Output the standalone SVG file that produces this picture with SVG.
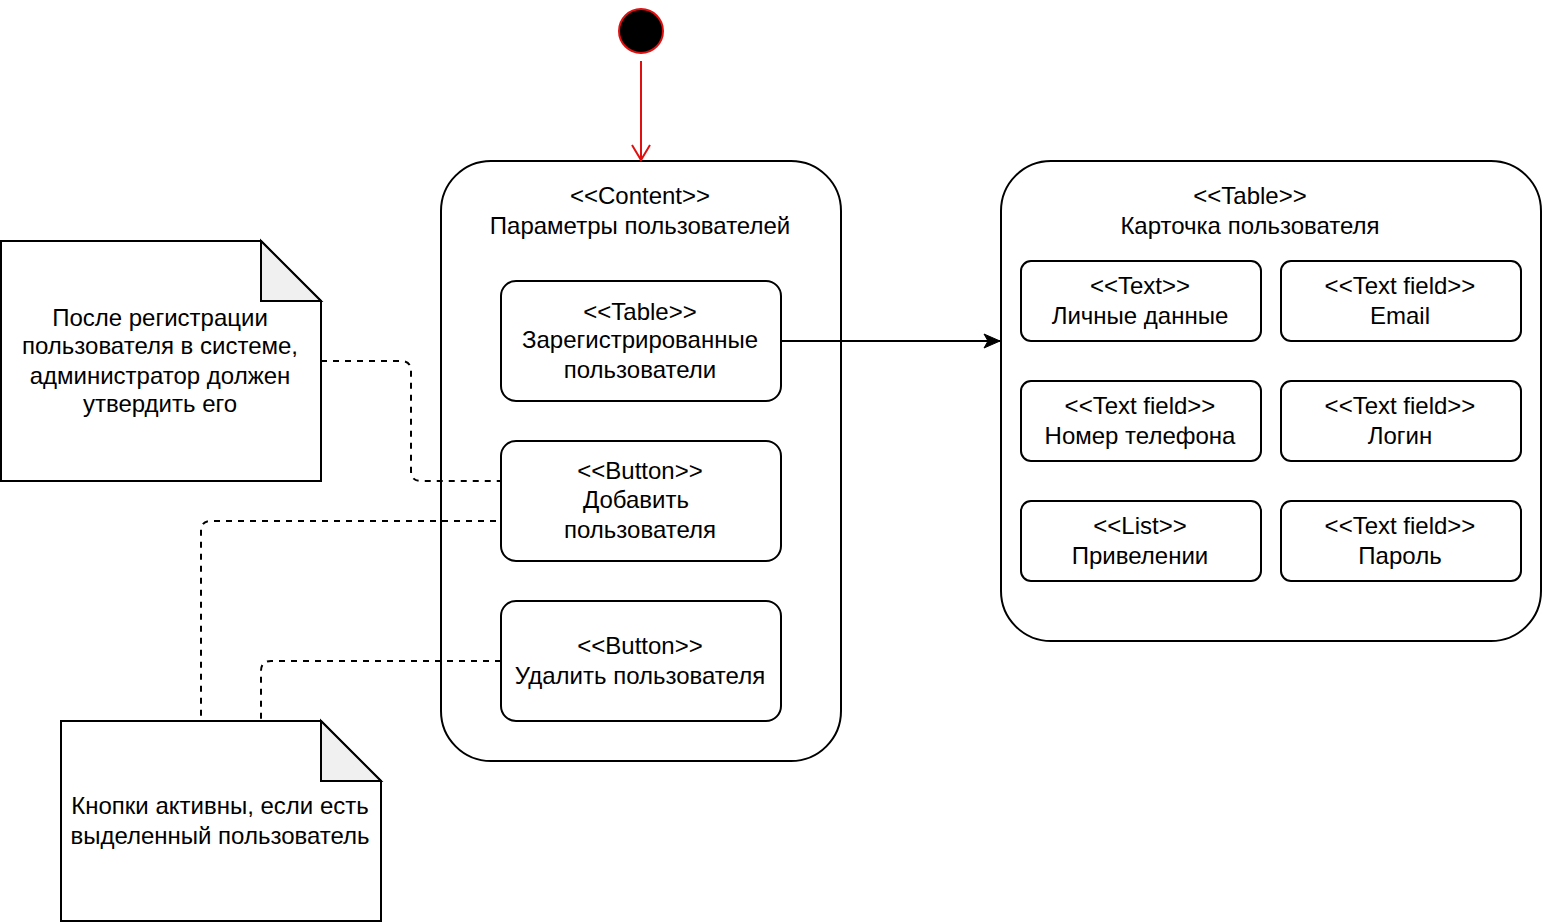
<svg xmlns="http://www.w3.org/2000/svg" width="1542" height="922" viewBox="0 0 1542 922">
  <style>
    .box { fill: #ffffff; stroke: #000000; stroke-width: 2; }
    .frame { fill: none; stroke: #000000; stroke-width: 2; }
    .note { fill: #ffffff; stroke: #000000; stroke-width: 2; }
    .fold { fill: #f0f0f0; stroke: #000000; stroke-width: 2; stroke-linejoin: miter; }
    .lbl { font-family: "Liberation Sans", Arial, sans-serif; font-size: 24px; fill: #000000; text-anchor: middle; }
    .dash { fill: none; stroke: #000000; stroke-width: 2; stroke-dasharray: 6 6; }
    .link { fill: none; stroke: #000000; stroke-width: 2; }
    .init { fill: none; stroke: #e01010; stroke-width: 2; }
  </style>
  <defs>
    <marker id="openArrowRed" viewBox="0 0 20 24" refX="18" refY="12" markerWidth="20" markerHeight="24" markerUnits="userSpaceOnUse" orient="auto">
      <path d="M3 3 L18 12 L3 21" fill="none" stroke="#e01010" stroke-width="2"/>
    </marker>
    <marker id="blockArrow" viewBox="0 0 20 20" refX="18" refY="10" markerWidth="20" markerHeight="20" markerUnits="userSpaceOnUse" orient="auto">
      <path d="M2 3 L18 10 L2 17 L6 10 Z" fill="#000000" stroke="#000000" stroke-width="1"/>
    </marker>
  </defs>

  <!-- containers -->
  <g id="content-screen">
    <rect class="frame" x="441" y="161" width="400" height="600" rx="50" ry="50"/>
    <text class="lbl" x="640" y="204">&lt;&lt;Content&gt;&gt;</text>
    <text class="lbl" x="640" y="234">Параметры пользователей</text>
  </g>
  <g id="user-card">
    <rect class="frame" x="1001" y="161" width="540" height="480" rx="50" ry="50"/>
    <text class="lbl" x="1250" y="204">&lt;&lt;Table&gt;&gt;</text>
    <text class="lbl" x="1250" y="234">Карточка пользователя</text>
  </g>

  <!-- connectors -->
  <g id="connectors">
    <line class="init" x1="641" y1="61" x2="641" y2="160" marker-end="url(#openArrowRed)"/>
    <line class="link" x1="781" y1="341" x2="1000" y2="341" marker-end="url(#blockArrow)"/>
    <path class="dash" d="M321 361 H401 Q411 361 411 371 V471 Q411 481 421 481 H501"/>
    <path class="dash" d="M496 521 H211 Q201 521 201 531 V721"/>
    <path class="dash" d="M501 661 H271 Q261 661 261 671 V721"/>
  </g>

  <!-- start state -->
  <g id="start">
    <circle cx="641" cy="31" r="22" fill="#000000" stroke="#e01010" stroke-width="2"/>
  </g>

  <!-- controls inside content screen -->
  <g id="registered-users">
    <rect class="box" x="501" y="281" width="280" height="120" rx="15" ry="15"/>
    <text class="lbl" x="640" y="320">&lt;&lt;Table&gt;&gt;</text>
    <text class="lbl" x="640" y="348">Зарегистрированные</text>
    <text class="lbl" x="640" y="378">пользователи</text>
  </g>
  <g id="add-user">
    <rect class="box" x="501" y="441" width="280" height="120" rx="15" ry="15"/>
    <text class="lbl" x="640" y="479">&lt;&lt;Button&gt;&gt;</text>
    <text class="lbl" x="636" y="508">Добавить</text>
    <text class="lbl" x="640" y="538">пользователя</text>
  </g>
  <g id="delete-user">
    <rect class="box" x="501" y="601" width="280" height="120" rx="15" ry="15"/>
    <text class="lbl" x="640" y="654">&lt;&lt;Button&gt;&gt;</text>
    <text class="lbl" x="640" y="684">Удалить пользователя</text>
  </g>

  <!-- fields of the user card -->
  <g id="personal-data">
    <rect class="box" x="1021" y="261" width="240" height="80" rx="10" ry="10"/>
    <text class="lbl" x="1140" y="294">&lt;&lt;Text&gt;&gt;</text>
    <text class="lbl" x="1140" y="324">Личные данные</text>
  </g>
  <g id="email">
    <rect class="box" x="1281" y="261" width="240" height="80" rx="10" ry="10"/>
    <text class="lbl" x="1400" y="294">&lt;&lt;Text field&gt;&gt;</text>
    <text class="lbl" x="1400" y="324">Email</text>
  </g>
  <g id="phone">
    <rect class="box" x="1021" y="381" width="240" height="80" rx="10" ry="10"/>
    <text class="lbl" x="1140" y="414">&lt;&lt;Text field&gt;&gt;</text>
    <text class="lbl" x="1140" y="444">Номер телефона</text>
  </g>
  <g id="login">
    <rect class="box" x="1281" y="381" width="240" height="80" rx="10" ry="10"/>
    <text class="lbl" x="1400" y="414">&lt;&lt;Text field&gt;&gt;</text>
    <text class="lbl" x="1400" y="444">Логин</text>
  </g>
  <g id="privileges">
    <rect class="box" x="1021" y="501" width="240" height="80" rx="10" ry="10"/>
    <text class="lbl" x="1140" y="534">&lt;&lt;List&gt;&gt;</text>
    <text class="lbl" x="1140" y="564">Привелении</text>
  </g>
  <g id="password">
    <rect class="box" x="1281" y="501" width="240" height="80" rx="10" ry="10"/>
    <text class="lbl" x="1400" y="534">&lt;&lt;Text field&gt;&gt;</text>
    <text class="lbl" x="1400" y="564">Пароль</text>
  </g>

  <!-- notes -->
  <g id="note-approval">
    <path class="note" d="M1 241 H261 L321 301 V481 H1 Z"/>
    <path class="fold" d="M261 241 V301 H321 Z"/>
    <text class="lbl" x="160" y="326">После регистрации</text>
    <text class="lbl" x="160" y="354">пользователя в системе,</text>
    <text class="lbl" x="160" y="384">администратор должен</text>
    <text class="lbl" x="160" y="412">утвердить его</text>
  </g>
  <g id="note-buttons">
    <path class="note" d="M61 721 H321 L381 781 V921 H61 Z"/>
    <path class="fold" d="M321 721 V781 H381 Z"/>
    <text class="lbl" x="220" y="814">Кнопки активны, если есть</text>
    <text class="lbl" x="220" y="844">выделенный пользователь</text>
  </g>
</svg>
